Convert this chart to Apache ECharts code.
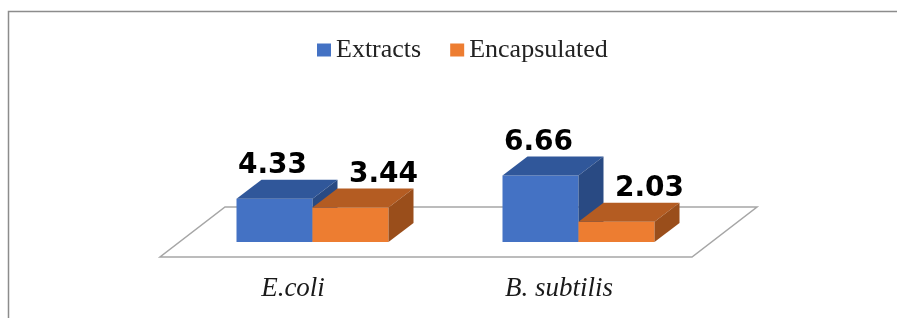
<!DOCTYPE html>
<html>
<head>
<meta charset="utf-8">
<style>html,body{margin:0;padding:0;background:#fff;}#c{width:897px;height:318px;}</style>
<script src="https://cdn.jsdelivr.net/npm/echarts@6/dist/echarts.min.js"></script>
</head>
<body>
<div id="c"></div>
<script>
var categories = ['E.coli', 'B. subtilis'];
var seriesNames = ['Extracts', 'Encapsulated'];
var extractsValues = [4.33, 6.66];
var encapsulatedValues = [3.44, 2.03];

var FACE = {
  Extracts: { front: '#4472C4', top: '#30579A', side: '#294A83', labelDx: 36 },
  Encapsulated: { front: '#ED7D31', top: '#B45C22', side: '#9A4E1B', labelDx: 71 }
};
var BAR_W = 76, DEPTH_X = 25, DEPTH_Y = 19;
var FLOOR_DX = 65, FLOOR_DY = 50;

function barRenderer(seriesIdx, name) {
  return function (params, api) {
    var cat = api.value(0), val = api.value(1);
    var top = api.coord([cat, val]);
    var base = api.coord([cat, 0]);
    var x0 = seriesIdx === 0 ? base[0] - BAR_W : base[0];
    var x1 = x0 + BAR_W;
    var yb = base[1], yt = top[1];
    var f = FACE[name];
    return {
      type: 'group',
      children: [
        { type: 'polygon', shape: { points: [[x0, yb], [x1, yb], [x1, yt], [x0, yt]] }, style: { fill: f.front } },
        { type: 'polygon', shape: { points: [[x0, yt], [x1, yt], [x1 + DEPTH_X, yt - DEPTH_Y], [x0 + DEPTH_X, yt - DEPTH_Y]] }, style: { fill: f.top } },
        { type: 'polygon', shape: { points: [[x1, yb], [x1 + DEPTH_X, yb - DEPTH_Y], [x1 + DEPTH_X, yt - DEPTH_Y], [x1, yt]] }, style: { fill: f.side } },
        { type: 'text', z2: 10, style: { text: val.toFixed(2), x: x0 + f.labelDx, y: yt - 22 - 10.5, align: 'center', verticalAlign: 'middle', fill: '#000', font: 'bold 28px "DejaVu Sans", sans-serif' } }
      ]
    };
  };
}

var chart = echarts.init(document.getElementById('c'), null, { renderer: 'canvas' });
chart.setOption({
  backgroundColor: '#fff',
  animation: false,
  graphic: [{ type: 'rect', shape: { x: 8.5, y: 11.5, width: 900, height: 330 }, style: { fill: 'none', stroke: '#8C8C8C', lineWidth: 1.5 }, z: -10 }],
  legend: {
    data: seriesNames, left: 312, top: 32, icon: 'rect', itemWidth: 14, itemHeight: 13, itemGap: 29,
    textStyle: { fontFamily: '"Times New Roman","Liberation Serif",serif', fontSize: 26, color: '#222' }
  },
  grid: [
    { left: 160, right: 205, bottom: 61, top: 157 },
    { left: 179.5, right: 185.5, bottom: 76, top: 142 }
  ],
  xAxis: [
    { type: 'category', gridIndex: 0, data: categories, axisLine: { show: false }, axisTick: { show: false }, splitLine: { show: false },
      axisLabel: { margin: 18, fontFamily: '"Times New Roman","Liberation Serif",serif', fontStyle: 'italic', fontSize: 27, color: '#1a1a1a' } },
    { type: 'category', gridIndex: 1, data: categories, show: false }
  ],
  yAxis: [
    { type: 'value', gridIndex: 0, min: 0, max: 10, show: false },
    { type: 'value', gridIndex: 1, min: 0, max: 10, show: false }
  ],
  series: [
    {
      type: 'custom', name: 'floor', xAxisIndex: 0, yAxisIndex: 0, z: 1, silent: true,
      data: [[0, 0]],
      renderItem: function (params, api) {
        var p = api.coord([0, 0]);
        var band = api.size([1, 0])[0];
        var l = p[0] - band / 2, r = l + band * categories.length, y = p[1];
        return { type: 'polygon', shape: { points: [[l, y], [r, y], [r + FLOOR_DX, y - FLOOR_DY], [l + FLOOR_DX, y - FLOOR_DY]] },
          style: { fill: '#fff', stroke: '#A6A6A6', lineWidth: 1.5 } };
      }
    },
    {
      type: 'custom', name: 'Extracts', xAxisIndex: 1, yAxisIndex: 1, z: 2, itemStyle: { color: '#4472C4' },
      data: extractsValues.map(function (v, i) { return [i, v]; }),
      renderItem: barRenderer(0, 'Extracts')
    },
    {
      type: 'custom', name: 'Encapsulated', xAxisIndex: 1, yAxisIndex: 1, z: 3, itemStyle: { color: '#ED7D31' },
      data: encapsulatedValues.map(function (v, i) { return [i, v]; }),
      renderItem: barRenderer(1, 'Encapsulated')
    }
  ]
});
</script>
</body>
</html>
